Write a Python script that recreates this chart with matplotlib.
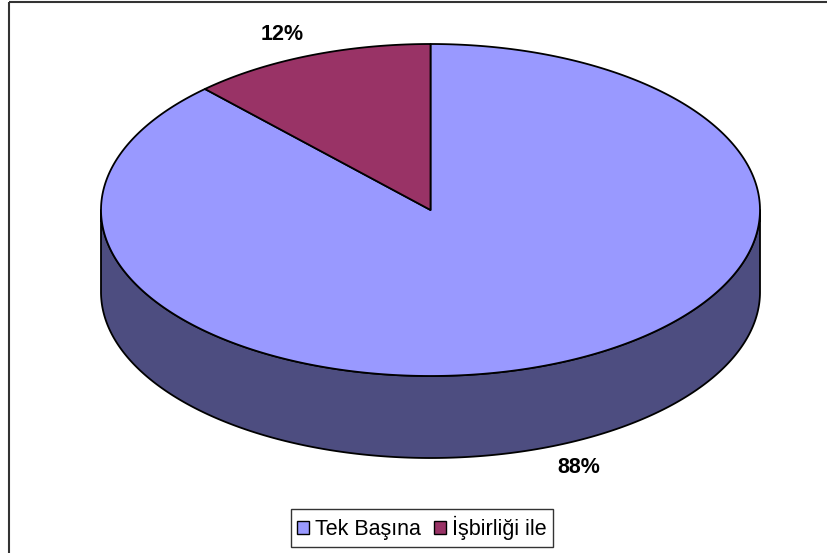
import numpy as np
import matplotlib.pyplot as plt
from matplotlib.patches import Polygon, Rectangle, Patch

plt.rcParams['font.family'] = ['Liberation Sans', 'DejaVu Sans']

# data
labels = ['Tek Başına', 'İşbirliği ile']
values = [88, 12]
top_colors = ['#9999FF', '#993366']
side_colors = ['#4D4D80', '#4D1A33']

# pie geometry in pixels
cx, cy = 430.5, 210
rx, ry = 329.5, 166
depth = 82


def ell(theta, dy=0):
    return np.column_stack([cx + rx * np.cos(theta), cy - ry * np.sin(theta) + dy])


fig = plt.figure(figsize=(8.28, 5.53), dpi=100)
ax = fig.add_axes([0, 0, 1, 1])
ax.set_xlim(0, 828)
ax.set_ylim(553, 0)
ax.axis('off')

# chart frame (only left and top edges show)
ax.add_patch(Rectangle((9, 2), 830, 560, fill=False, ec='#333333', lw=1.5))

# slices: first goes clockwise from 12 o'clock, second fills the rest
fr = np.array(values, dtype=float) / sum(values)
starts = [np.pi / 2 - 2 * np.pi * fr[0], np.pi / 2]
ends = [np.pi / 2, np.pi / 2 + 2 * np.pi * fr[1]]

# side wall, only the front half (pi..2pi) is visible
for s, e, c in zip(starts, ends, side_colors):
    for k in (-1, 0, 1):
        b0 = max(s, np.pi + 2 * np.pi * k)
        b1 = min(e, 2 * np.pi + 2 * np.pi * k)
        if b1 > b0:
            t = np.linspace(b0, b1, 300)
            pts = np.vstack([ell(t), ell(t[::-1], depth)])
            ax.add_patch(Polygon(pts, closed=True, fc=c, ec='black', lw=1.3, joinstyle='round'))

# top wedges
for s, e, c in zip(starts, ends, top_colors):
    t = np.linspace(s, e, 400)
    pts = np.vstack([[cx, cy], ell(t)])
    ax.add_patch(Polygon(pts, closed=True, fc=c, ec='black', lw=1.3, joinstyle='round'))

# percentage labels
kx, ky = 1.22, 1.14
for s, e, v in zip(starts, ends, values):
    m = (s + e) / 2
    x = cx + rx * kx * np.cos(m)
    y = cy - ry * ky * np.sin(m) + (depth if np.sin(m) < 0 else 0)
    ax.text(x, y, f'{v}%', ha='center', va='center', fontsize=15.5, fontweight='bold')

handles = [Patch(fc=c, ec='black', lw=1) for c in top_colors]
leg = ax.legend(handles, labels, loc='center', bbox_to_anchor=(422 / 828, 1 - 528 / 553),
                ncol=2, frameon=True, fancybox=False, fontsize=15.5,
                handlelength=0.55, handleheight=0.55, handletextpad=0.3,
                columnspacing=0.6, borderpad=0.3, edgecolor='black')
leg.get_frame().set_linewidth(1.0)

fig.savefig('out.png', dpi=100)
